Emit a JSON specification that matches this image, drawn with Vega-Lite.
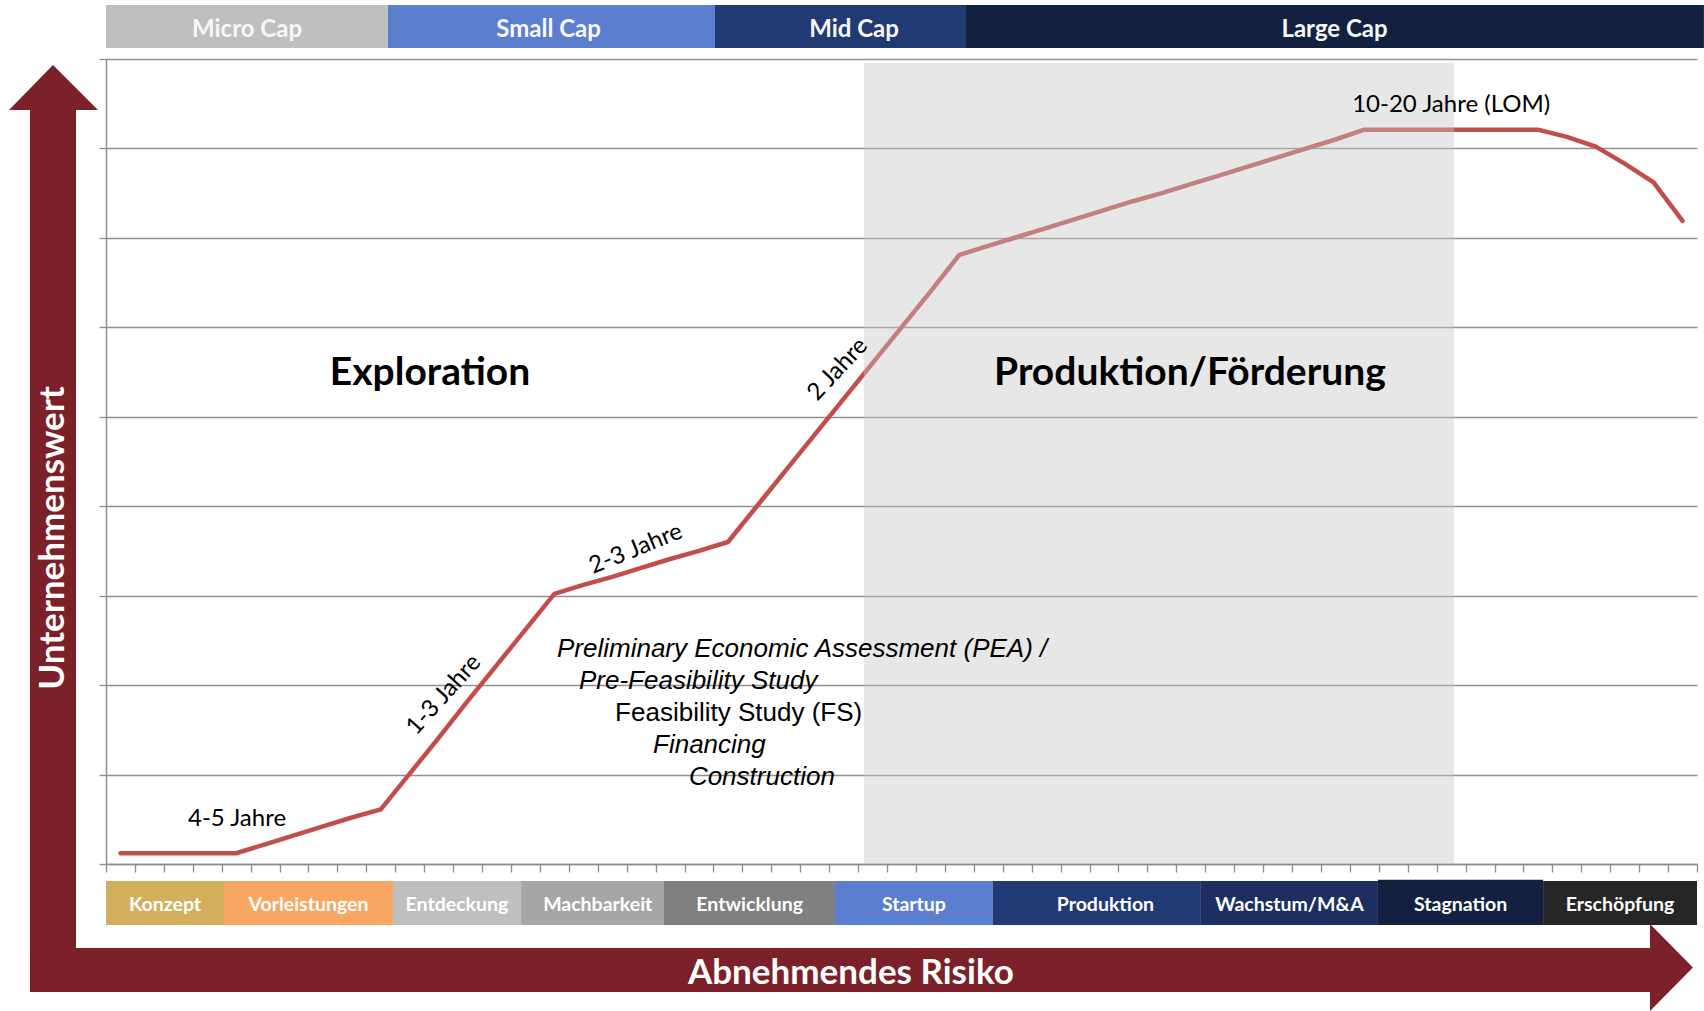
{
  "$schema": "https://vega.github.io/schema/vega-lite/v6.json",
  "width": 1591,
  "height": 805,
  "autosize": {"type": "none"},
  "padding": {"left": 106, "top": 59, "right": 7, "bottom": 147},
  "background": "white",
  "config": {
    "view": {"stroke": null},
    "axis": {"labels": false, "title": null, "domainColor": "#8f8f8f", "domainWidth": 1.5, "tickColor": "#8f8f8f", "tickWidth": 1.3}
  },
  "resolve": {"scale": {"color": "independent"}},
  "datasets": {
    "wert": [
      {"u": 0, "v": 0.12}, {"u": 1, "v": 0.12}, {"u": 2, "v": 0.12}, {"u": 3, "v": 0.12}, {"u": 4, "v": 0.12},
      {"u": 5, "v": 0.22}, {"u": 6, "v": 0.32}, {"u": 7, "v": 0.42}, {"u": 8, "v": 0.52}, {"u": 9, "v": 0.61},
      {"u": 10, "v": 1.01}, {"u": 11, "v": 1.41}, {"u": 12, "v": 1.82}, {"u": 13, "v": 2.22}, {"u": 14, "v": 2.62},
      {"u": 15, "v": 3.02}, {"u": 16, "v": 3.12}, {"u": 17, "v": 3.21}, {"u": 18, "v": 3.31}, {"u": 19, "v": 3.41},
      {"u": 20, "v": 3.5}, {"u": 21, "v": 3.6}, {"u": 22, "v": 4.0}, {"u": 23, "v": 4.4}, {"u": 24, "v": 4.8},
      {"u": 25, "v": 5.2}, {"u": 26, "v": 5.6}, {"u": 27, "v": 6.0}, {"u": 28, "v": 6.4}, {"u": 29, "v": 6.81},
      {"u": 30, "v": 6.91}, {"u": 31, "v": 7.01}, {"u": 32, "v": 7.11}, {"u": 33, "v": 7.21}, {"u": 34, "v": 7.31},
      {"u": 35, "v": 7.41}, {"u": 36, "v": 7.5}, {"u": 37, "v": 7.6}, {"u": 38, "v": 7.7}, {"u": 39, "v": 7.8},
      {"u": 40, "v": 7.9}, {"u": 41, "v": 8.0}, {"u": 42, "v": 8.1}, {"u": 43, "v": 8.21}, {"u": 44, "v": 8.21},
      {"u": 45, "v": 8.21}, {"u": 46, "v": 8.21}, {"u": 47, "v": 8.21}, {"u": 48, "v": 8.21}, {"u": 49, "v": 8.21},
      {"u": 50, "v": 8.13}, {"u": 51, "v": 8.02}, {"u": 52, "v": 7.83}, {"u": 53, "v": 7.62}, {"u": 54, "v": 7.19}
    ],
    "top": [
      {"name": "Micro Cap", "u": -0.5, "u2": 9.25, "v": 9.604, "v2": 9.123, "lu": 4.375, "lv": 9.32},
      {"name": "Small Cap", "u": 9.25, "u2": 20.55, "v": 9.604, "v2": 9.123, "lu": 14.8, "lv": 9.32},
      {"name": "Mid Cap", "u": 20.55, "u2": 29.2, "v": 9.604, "v2": 9.123, "lu": 25.36, "lv": 9.32},
      {"name": "Large Cap", "u": 29.2, "u2": 54.74, "v": 9.604, "v2": 9.123, "lu": 41.97, "lv": 9.32}
    ],
    "phase": [
      {"name": "Konzept", "u": -0.5, "u2": 3.58, "v": -0.19, "v2": -0.682, "lu": 1.54, "lv": -0.46},
      {"name": "Vorleistungen", "u": 3.58, "u2": 9.42, "v": -0.19, "v2": -0.682, "lu": 6.5, "lv": -0.46},
      {"name": "Entdeckung", "u": 9.42, "u2": 13.85, "v": -0.19, "v2": -0.682, "lu": 11.63, "lv": -0.46},
      {"name": "Machbarkeit", "u": 13.85, "u2": 18.79, "v": -0.19, "v2": -0.682, "lu": 16.5, "lv": -0.46},
      {"name": "Entwicklung", "u": 18.79, "u2": 24.7, "v": -0.19, "v2": -0.682, "lu": 21.75, "lv": -0.46},
      {"name": "Startup", "u": 24.7, "u2": 30.16, "v": -0.19, "v2": -0.682, "lu": 27.43, "lv": -0.46},
      {"name": "Produktion", "u": 30.16, "u2": 37.35, "v": -0.19, "v2": -0.682, "lu": 34.05, "lv": -0.46},
      {"name": "Wachstum/M&A", "u": 37.35, "u2": 43.47, "v": -0.19, "v2": -0.682, "lu": 40.41, "lv": -0.46},
      {"name": "Stagnation", "u": 43.47, "u2": 49.18, "v": -0.175, "v2": -0.682, "lu": 46.33, "lv": -0.46},
      {"name": "Erschöpfung", "u": 49.18, "u2": 54.5, "v": -0.19, "v2": -0.682, "lu": 51.84, "lv": -0.46}
    ]
  },
  "encoding": {
    "x": {"field": "u", "type": "quantitative", "scale": {"domain": [-0.5, 54.5], "nice": false, "zero": false},
      "axis": {"values": [-0.5, 0.5, 1.5, 2.5, 3.5, 4.5, 5.5, 6.5, 7.5, 8.5, 9.5, 10.5, 11.5, 12.5, 13.5, 14.5, 15.5, 16.5, 17.5, 18.5, 19.5, 20.5, 21.5, 22.5, 23.5, 24.5, 25.5, 26.5, 27.5, 28.5, 29.5, 30.5, 31.5, 32.5, 33.5, 34.5, 35.5, 36.5, 37.5, 38.5, 39.5, 40.5, 41.5, 42.5, 43.5, 44.5, 45.5, 46.5, 47.5, 48.5, 49.5, 50.5, 51.5, 52.5, 53.5, 54.5], "grid": false, "tickSize": 8, "labels": false, "title": null}},
    "y": {"field": "v", "type": "quantitative", "scale": {"domain": [0, 9], "nice": false, "zero": false},
      "axis": {"values": [0, 1, 2, 3, 4, 5, 6, 7, 8, 9], "grid": true, "gridColor": "#919191", "gridWidth": 1.5, "tickSize": 7, "labels": false, "title": null}}
  },
  "layer": [
    {
      "data": {"name": "wert"},
      "mark": {"type": "line", "color": "#C24E4C", "strokeWidth": 4.5, "strokeCap": "round", "strokeJoin": "round"}
    },
    {
      "data": {"values": [{"u": 25.7, "u2": 46.1, "v": 8.955, "v2": 0}]},
      "mark": {"type": "rect", "color": "#C6C6C6", "opacity": 0.42},
      "encoding": {"x2": {"field": "u2"}, "y2": {"field": "v2"}}
    },
    {
      "data": {"name": "top"},
      "mark": {"type": "rect"},
      "encoding": {
        "x2": {"field": "u2"}, "y2": {"field": "v2"},
        "color": {"field": "name", "type": "nominal", "legend": null,
          "scale": {"domain": ["Micro Cap", "Small Cap", "Mid Cap", "Large Cap"], "range": ["#BFBFBF", "#5B7FCE", "#213A74", "#14203F"]}}
      }
    },
    {
      "data": {"name": "top"},
      "mark": {"type": "text", "font": "Lato", "fontWeight": "bold", "fontSize": 24, "color": "#F7F7F7", "align": "center", "baseline": "middle"},
      "encoding": {"x": {"field": "lu", "type": "quantitative"}, "y": {"field": "lv", "type": "quantitative"}, "text": {"field": "name"}}
    },
    {
      "data": {"name": "phase"},
      "mark": {"type": "rect"},
      "encoding": {
        "x2": {"field": "u2"}, "y2": {"field": "v2"},
        "fill": {"field": "name", "type": "nominal", "legend": null,
          "scale": {"domain": ["Konzept", "Vorleistungen", "Entdeckung", "Machbarkeit", "Entwicklung", "Startup", "Produktion", "Wachstum/M&A", "Stagnation", "Erschöpfung"],
            "range": ["#D3AF5D", "#F8A762", "#BFBFBF", "#A6A6A6", "#808080", "#5B7FCE", "#213A74", "#1D2F61", "#14203F", "#262626"]}}
      }
    },
    {
      "data": {"name": "phase"},
      "mark": {"type": "text", "font": "Lato", "fontWeight": "bold", "fontSize": 19.5, "color": "white", "align": "center", "baseline": "middle"},
      "encoding": {"x": {"field": "lu", "type": "quantitative"}, "y": {"field": "lv", "type": "quantitative"}, "text": {"field": "name"}}
    },
    {
      "data": {"values": [
        {"u": -3.127, "u2": -1.537, "v": 8.45, "v2": -1.431},
        {"u": -3.127, "u2": 52.9, "v": -0.939, "v2": -1.431}
      ]},
      "mark": {"type": "rect", "color": "#7C2129"},
      "encoding": {"x2": {"field": "u2"}, "y2": {"field": "v2"}}
    },
    {
      "data": {"values": [
        {"u": -3.853, "v": 8.43, "v2": 8.43},
        {"u": -2.332, "v": 8.933, "v2": 8.43},
        {"u": -0.777, "v": 8.43, "v2": 8.43}
      ]},
      "mark": {"type": "area", "color": "#7C2129", "orient": "vertical"},
      "encoding": {"y2": {"field": "v2"}}
    },
    {
      "data": {"values": [
        {"v": -0.671, "u": 52.875, "u2": 52.875},
        {"v": -1.158, "u": 54.36, "u2": 52.875},
        {"v": -1.644, "u": 52.875, "u2": 52.875}
      ]},
      "mark": {"type": "area", "color": "#7C2129", "orient": "horizontal"},
      "encoding": {"x2": {"field": "u2"}}
    },
    {
      "data": {"values": [{"u": 25.25, "v": -1.22, "label": "Abnehmendes Risiko"}]},
      "mark": {"type": "text", "font": "Lato", "fontWeight": "bold", "fontSize": 35, "color": "white", "align": "center", "baseline": "middle"},
      "encoding": {"text": {"field": "label"}}
    },
    {
      "data": {"values": [{"u": -2.33, "v": 3.645, "label": "Unternehmenswert"}]},
      "mark": {"type": "text", "font": "Lato", "fontWeight": "bold", "fontSize": 35, "color": "white", "align": "center", "baseline": "middle", "angle": 270},
      "encoding": {"text": {"field": "label"}}
    },
    {
      "data": {"values": [
        {"u": 10.7, "v": 5.49, "label": "Exploration"},
        {"u": 36.97, "v": 5.49, "label": "Produktion/Förderung"}
      ]},
      "mark": {"type": "text", "font": "Lato", "fontWeight": "bold", "fontSize": 39, "color": "black", "align": "center", "baseline": "middle"},
      "encoding": {"text": {"field": "label"}}
    },
    {
      "data": {"values": [
        {"u": 4.03, "v": 0.505, "label": "4-5 Jahre"},
        {"u": 46.0, "v": 8.49, "label": "10-20 Jahre (LOM)"}
      ]},
      "mark": {"type": "text", "font": "Lato", "fontSize": 24, "color": "black", "align": "center", "baseline": "middle"},
      "encoding": {"text": {"field": "label"}}
    },
    {
      "data": {"values": [{"u": 11.18, "v": 1.89, "label": "1-3 Jahre"}]},
      "mark": {"type": "text", "font": "Lato", "fontSize": 24, "color": "black", "align": "center", "baseline": "middle", "angle": 312},
      "encoding": {"text": {"field": "label"}}
    },
    {
      "data": {"values": [{"u": 17.82, "v": 3.52, "label": "2-3 Jahre"}]},
      "mark": {"type": "text", "font": "Lato", "fontSize": 24, "color": "black", "align": "center", "baseline": "middle", "angle": 338},
      "encoding": {"text": {"field": "label"}}
    },
    {
      "data": {"values": [{"u": 24.8, "v": 5.53, "label": "2 Jahre"}]},
      "mark": {"type": "text", "font": "Lato", "fontSize": 24, "color": "black", "align": "center", "baseline": "middle", "angle": 313},
      "encoding": {"text": {"field": "label"}}
    },
    {
      "data": {"values": [
        {"u": 15.09, "v": 2.4, "label": "Preliminary Economic Assessment (PEA) /"},
        {"u": 15.85, "v": 2.05, "label": "Pre-Feasibility Study"},
        {"u": 18.41, "v": 1.33, "label": "Financing"},
        {"u": 19.65, "v": 0.97, "label": "Construction"}
      ]},
      "mark": {"type": "text", "font": "Liberation Sans", "fontStyle": "italic", "fontSize": 26, "color": "black", "align": "left", "baseline": "middle"},
      "encoding": {"text": {"field": "label"}}
    },
    {
      "data": {"values": [{"u": 17.1, "v": 1.69, "label": "Feasibility Study (FS)"}]},
      "mark": {"type": "text", "font": "Liberation Sans", "fontSize": 26, "color": "black", "align": "left", "baseline": "middle"},
      "encoding": {"text": {"field": "label"}}
    }
  ]
}
